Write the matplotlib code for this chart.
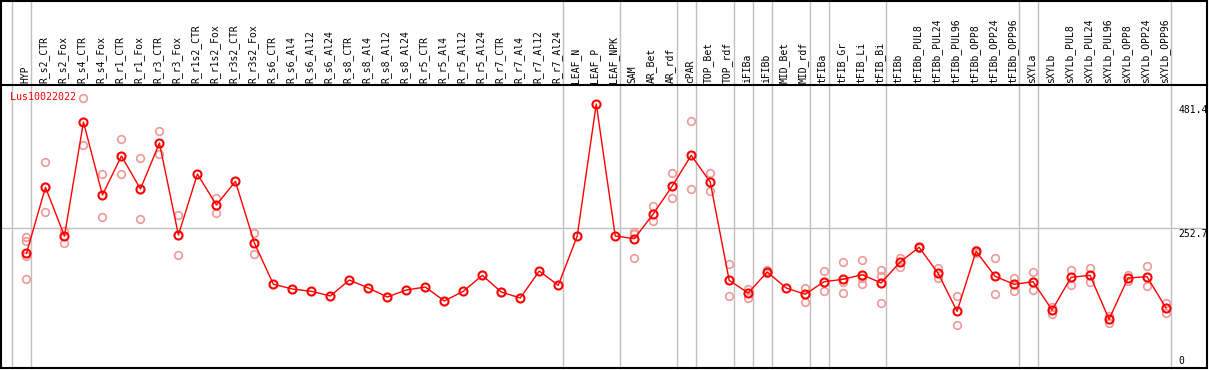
import matplotlib
matplotlib.use("Agg")
import matplotlib.pyplot as plt
from matplotlib.patches import Rectangle
import numpy as np

gene = "Lus10022022"

samples = ["HYP", "R_s2_CTR", "R_s2_Fox", "R_s4_CTR", "R_s4_Fox", "R_r1_CTR", "R_r1_Fox",
           "R_r3_CTR", "R_r3_Fox", "R_r1s2_CTR", "R_r1s2_Fox", "R_r3s2_CTR", "R_r3s2_Fox",
           "R_s6_CTR", "R_s6_Al4", "R_s6_Al12", "R_s6_Al24", "R_s8_CTR", "R_s8_Al4",
           "R_s8_Al12", "R_s8_Al24", "R_r5_CTR", "R_r5_Al4", "R_r5_Al12", "R_r5_Al24",
           "R_r7_CTR", "R_r7_Al4", "R_r7_Al12", "R_r7_Al24", "LEAF_N", "LEAF_P", "LEAF_NPK",
           "SAM", "AR_Bet", "AR_rdf", "cPAR", "TOP_Bet", "TOP_rdf", "iFIBa", "iFIBb",
           "MID_Bet", "MID_rdf", "tFIBa", "tFIB_Gr", "tFIB_Li", "tFIB_Bi", "tFIBb",
           "tFIBb_PUL8", "tFIBb_PUL24", "tFIBb_PUL96", "tFIBb_OPP8", "tFIBb_OPP24",
           "tFIBb_OPP96", "sXYLa", "sXYLb", "sXYLb_PUL8", "sXYLb_PUL24", "sXYLb_PUL96",
           "sXYLb_OPP8", "sXYLb_OPP24", "sXYLb_OPP96"]

means = [206.6, 328.0, 238.5, 448.2, 313.9, 385.7, 325.0, 409.6, 240.3, 352.5, 295.5,
         339.0, 225.6, 149.6, 140.9, 136.7, 128.1, 157.5, 142.8, 126.2, 139.1, 144.6,
         118.9, 136.7, 166.1, 135.4, 124.4, 174.0, 147.7, 238.5, 481.4, 238.5, 233.5,
         278.9, 330.4, 386.9, 337.8, 156.9, 133.6, 172.2, 142.8, 131.2, 154.4, 158.8,
         167.3, 152.0, 190.6, 217.7, 169.8, 99.9, 210.3, 164.3, 149.6, 154.4, 102.3,
         162.5, 166.1, 85.2, 161.2, 163.6, 106.0]

replicates = [
    [237.2, 229.3, 202.2, 159.3], [374.0, 282.0], [248.3, 226.2], [491.8, 405.3],
    [352.0, 272.9], [416.4, 352.0], [381.4, 269.2], [431.1, 388.8], [276.5, 202.9],
    [], [309.0, 280.2], [], [244.0, 205.3],
    [], [], [], [], [], [], [], [], [], [], [], [], [], [], [], [],
    [], [], [],
    [245.0, 243.0, 198.0], [293.7, 265.5], [353.8, 307.8], [449.5, 324.4],
    [353.8, 320.7], [186.4, 128.1], [140.9, 124.9], [175.0, 170.0],
    [], [143.4, 117.6], [174.0, 136.7], [190.6, 154.4, 133.0], [194.3, 161.7, 149.6],
    [175.9, 164.9, 114.6], [198.5, 180.9], [219.0, 216.0], [179.0, 161.7],
    [128.1, 74.7], [212.0, 208.0], [197.4, 131.2], [161.2, 136.7], [172.2, 138.5],
    [108.4, 94.9], [175.3, 148.9], [179.0, 154.4], [91.3, 78.9], [166.7, 155.7],
    [182.7, 145.9], [115.2, 96.8]]

group_starts = [0, 1, 29, 32, 35, 36, 38, 39, 40, 42, 43, 46, 53, 54, 61]
ytick_values = [481.4, 252.7]

W, H = 1209, 370
fig = plt.figure(figsize=(W / 100, H / 100), dpi=100)
fig.patch.set_facecolor("white")

# plot area in pixels: x 0..1207, y 85..368 (from top)
px_left, px_right, px_top, px_bot = 0.5, 1207, 85, 368
ax = fig.add_axes([px_left / W, (H - px_bot) / H, (px_right - px_left) / W, (px_bot - px_top) / H])
ax.set_xlim(-1.368, 62.158)
ax.set_ylim(-4.42, 516.3)
ax.set_axis_off()

mono = "DejaVu Sans Mono"
ext = (px_bot - 0) / (px_bot - px_top)

for g in group_starts:
    ax.axvline(g - 0.763, ymin=0, ymax=ext, color="#c0c0c0", lw=1, clip_on=False, zorder=1)
ax.axhline(ytick_values[1], color="#c0c0c0", lw=1, zorder=1)

x = np.arange(len(samples))
for i, reps in enumerate(replicates):
    if reps:
        ax.plot([i] * len(reps), reps, linestyle="none", marker="o", ms=5.5, mfc="none",
                mec="#f09898", mew=1.2, zorder=2)

ax.plot(x, means, color="red", lw=1, marker="o", ms=5.8, mfc="none", mec="red",
        mew=1.5, zorder=3)

for i, s in enumerate(samples):
    ax.text(i - 0.08, (px_bot - 83) / (px_bot - px_top), s, rotation=90, ha="center",
            va="bottom", fontsize=7, family=mono, color="black",
            transform=ax.get_xaxis_transform(), clip_on=False)

ax.text(10 / 1207, (px_bot - 97) / (px_bot - px_top), gene, color="red", fontsize=7.2,
        family=mono, ha="left", va="center", transform=ax.transAxes)

for v in ytick_values:
    ax.text(1178 / 1207, v - 1, f"{v}", fontsize=7, family=mono, ha="left", va="top",
            transform=ax.get_yaxis_transform())
ax.text(1178 / 1207, 0.008, "0", fontsize=7, family=mono, ha="left", va="bottom",
        transform=ax.transAxes)

# frame and separator
fig.add_artist(Rectangle((0.5 / W, (H - 368) / H), 1206.5 / W, 367.5 / H, fill=False,
                         edgecolor="black", lw=1.5, transform=fig.transFigure))
fig.add_artist(plt.Line2D([0, 1207 / W], [(H - 85) / H] * 2, color="black", lw=1.5,
                          transform=fig.transFigure))

fig.savefig("out.png", dpi=100)
